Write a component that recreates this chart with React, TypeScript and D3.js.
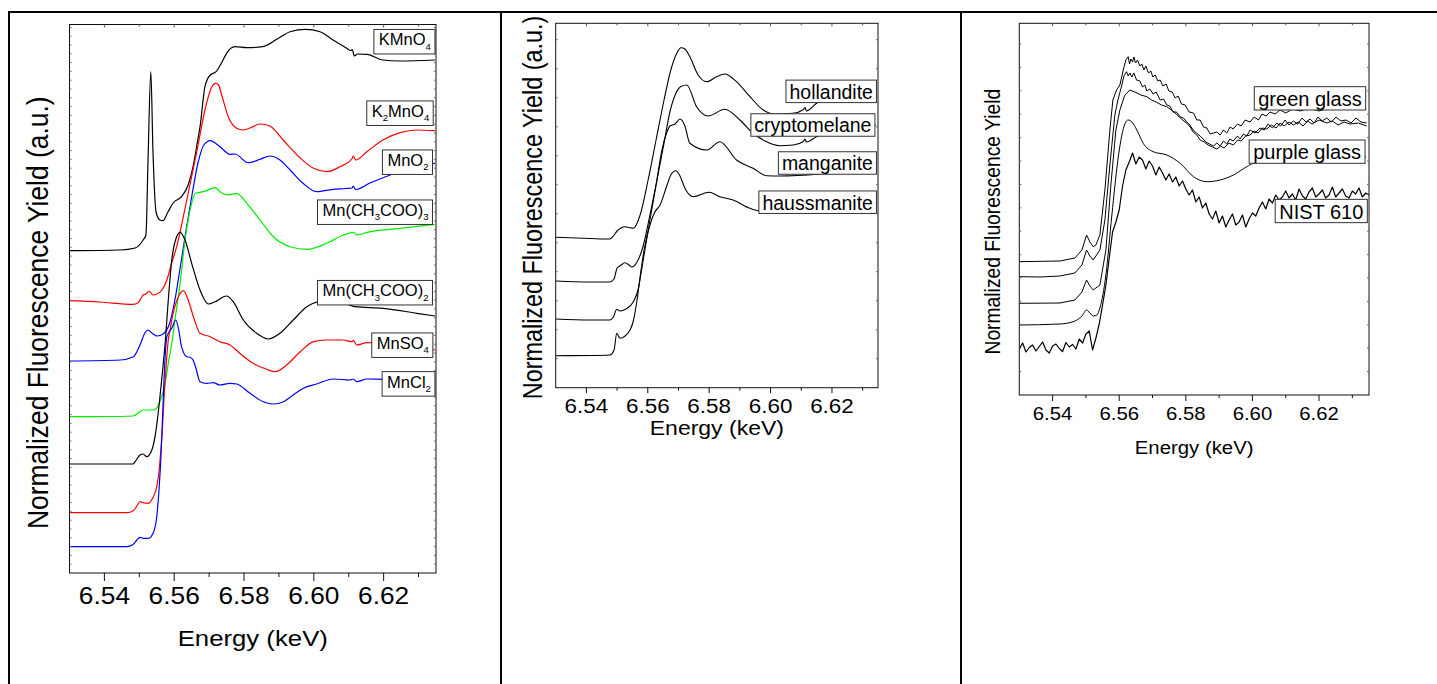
import React, { useEffect, useRef } from "react";
import * as d3 from "d3";

type Pt = [number, number];

// shared energy axis (keV)
const energyDomain: [number, number] = [6.53, 6.635];
const energyTicks = [6.54, 6.56, 6.58, 6.6, 6.62];
const energyMinorTicks = [6.55, 6.57, 6.59, 6.61, 6.63];

// ---- panel 1: Mn reference compounds (normalized yield, stacked) ----
const kmno4: Pt[] = [
  [6.53, 6.446], [6.5445, 6.46], [6.5488, 6.5], [6.5511, 6.66], [6.5519, 6.76], [6.5525, 8.26],
  [6.5533, 10.026], [6.5539, 8.46], [6.5548, 7.22], [6.5559, 7.06], [6.5568, 7.046], [6.5582, 7.22],
  [6.5597, 7.4], [6.5621, 7.526], [6.564, 7.76], [6.5654, 8.126], [6.5665, 8.56], [6.5674, 8.926],
  [6.5688, 9.726], [6.5703, 9.96], [6.572, 10.026], [6.5737, 10.22], [6.575, 10.394], [6.5774, 10.526],
  [6.5808, 10.506], [6.5854, 10.526], [6.5894, 10.674], [6.5932, 10.826], [6.5975, 10.874],
  [6.6018, 10.826], [6.6055, 10.66], [6.6094, 10.494], [6.6106, 10.45], [6.611, 10.47], [6.6116, 10.34],
  [6.6125, 10.38], [6.6152, 10.374], [6.6198, 10.26], [6.6247, 10.24], [6.6347, 10.26],
];
const k2mno4: Pt[] = [
  [6.53, 5.446], [6.5387, 5.42], [6.5482, 5.374], [6.5496, 5.4], [6.5511, 5.56], [6.5519, 5.58],
  [6.5528, 5.64], [6.5539, 5.56], [6.5551, 5.58], [6.5565, 5.66], [6.5579, 5.86], [6.5591, 6.16],
  [6.5607, 6.526], [6.5636, 7.46], [6.5664, 8.4], [6.5688, 9.26], [6.5707, 9.714], [6.5719, 9.794],
  [6.5727, 9.76], [6.5736, 9.56], [6.5755, 9.126], [6.5779, 8.894], [6.5797, 8.86], [6.5817, 8.9],
  [6.5846, 8.98], [6.5874, 8.94], [6.5912, 8.66], [6.5961, 8.3], [6.5999, 8.094], [6.6037, 8.026],
  [6.6075, 8.126], [6.6109, 8.28], [6.6113, 8.34], [6.612, 8.26], [6.6152, 8.426], [6.6198, 8.66],
  [6.6247, 8.806], [6.6295, 8.86], [6.6347, 8.846],
];
const mno2: Pt[] = [
  [6.53, 4.24], [6.5445, 4.26], [6.5482, 4.32], [6.5502, 4.56], [6.5516, 4.8], [6.5525, 4.86],
  [6.5536, 4.8], [6.5551, 4.74], [6.5568, 4.78], [6.5588, 5.02], [6.5602, 5.46], [6.5617, 6.1],
  [6.5634, 6.86], [6.5651, 7.56], [6.5668, 8.2], [6.5685, 8.56], [6.5703, 8.646], [6.5731, 8.526],
  [6.576, 8.374], [6.5774, 8.38], [6.5812, 8.206], [6.5846, 8.274], [6.5874, 8.34], [6.5903, 8.26],
  [6.5932, 8.06], [6.5969, 7.794], [6.6008, 7.626], [6.6055, 7.674], [6.6092, 7.69], [6.6109, 7.7],
  [6.6113, 7.734], [6.612, 7.67], [6.6161, 7.8], [6.6219, 7.96], [6.6276, 8.1], [6.6347, 8.194],
];
const mnAcetate3: Pt[] = [
  [6.53, 3.126], [6.5445, 3.13], [6.5482, 3.14], [6.5502, 3.226], [6.5511, 3.26], [6.554, 3.26],
  [6.5559, 3.426], [6.5574, 3.794], [6.5583, 4.194], [6.5593, 4.594], [6.5602, 5.06], [6.5617, 5.8],
  [6.5631, 6.66], [6.565, 7.394], [6.566, 7.594], [6.5684, 7.626], [6.5717, 7.706], [6.5731, 7.626],
  [6.5755, 7.56], [6.5779, 7.594], [6.5808, 7.394], [6.5846, 7.06], [6.5884, 6.726], [6.5932, 6.526],
  [6.598, 6.474], [6.6037, 6.594], [6.6085, 6.76], [6.6114, 6.814], [6.6123, 6.76], [6.6152, 6.814],
  [6.6247, 6.894], [6.6347, 6.974],
];
const mnAcetate2: Pt[] = [
  [6.53, 2.18], [6.5445, 2.18], [6.5482, 2.18], [6.5488, 2.226], [6.5502, 2.36], [6.5511, 2.38],
  [6.5521, 2.326], [6.5536, 2.46], [6.5545, 2.726], [6.5554, 3.194], [6.5564, 3.86], [6.5574, 4.594],
  [6.5583, 5.46], [6.5593, 6.26], [6.5607, 6.726], [6.5617, 6.814], [6.5631, 6.66], [6.565, 6.194],
  [6.5674, 5.66], [6.5698, 5.38], [6.5717, 5.426], [6.575, 5.54], [6.5769, 5.426], [6.5798, 5.06],
  [6.5836, 4.794], [6.587, 4.68], [6.5903, 4.794], [6.5941, 5.06], [6.598, 5.326], [6.6013, 5.426],
  [6.6061, 5.46], [6.6118, 5.326], [6.6199, 5.294], [6.6295, 5.194], [6.6347, 5.14],
];
const mnso4: Pt[] = [
  [6.53, 1.206], [6.5464, 1.206], [6.5483, 1.246], [6.5493, 1.34], [6.5502, 1.426], [6.5511, 1.406],
  [6.5526, 1.394], [6.554, 1.526], [6.555, 1.726], [6.5557, 2.06], [6.5561, 2.394], [6.5566, 2.86],
  [6.5571, 3.526], [6.5576, 4.06], [6.5583, 4.66], [6.5588, 4.86], [6.5597, 5.194], [6.5612, 5.526],
  [6.5626, 5.646], [6.564, 5.46], [6.5655, 5.126], [6.5674, 4.794], [6.5703, 4.726], [6.5731, 4.626],
  [6.576, 4.56], [6.5788, 4.394], [6.5826, 4.194], [6.5865, 4.074], [6.5889, 4.026], [6.5922, 4.16],
  [6.5961, 4.426], [6.5999, 4.626], [6.6037, 4.66], [6.6085, 4.66], [6.6109, 4.626], [6.6113, 4.654],
  [6.6123, 4.56], [6.6152, 4.606], [6.619, 4.6], [6.6276, 4.54], [6.6347, 4.46],
];
const mncl2: Pt[] = [
  [6.53, 0.526], [6.5464, 0.526], [6.5483, 0.574], [6.5493, 0.66], [6.5502, 0.714], [6.5511, 0.694],
  [6.5526, 0.694], [6.554, 0.806], [6.555, 1.126], [6.5557, 1.726], [6.5562, 2.326], [6.5567, 3.194],
  [6.5572, 4.06], [6.5579, 4.726], [6.5593, 4.894], [6.5604, 5.06], [6.5612, 4.894], [6.5621, 4.526],
  [6.5636, 4.326], [6.5645, 4.314], [6.5654, 4.26], [6.5662, 4.1], [6.5674, 3.826], [6.5693, 3.794],
  [6.5712, 3.806], [6.5731, 3.76], [6.576, 3.794], [6.5779, 3.78], [6.5817, 3.594], [6.5855, 3.426],
  [6.5884, 3.38], [6.5913, 3.426], [6.5941, 3.56], [6.597, 3.694], [6.6008, 3.78], [6.6056, 3.88],
  [6.6104, 3.86], [6.6113, 3.88], [6.6123, 3.826], [6.6152, 3.88], [6.6199, 3.874], [6.6347, 3.86],
];

// ---- panel 2: Mn oxide minerals ----
const hollandite: Pt[] = [
  [6.53, 3.008], [6.5412, 2.984], [6.5476, 2.974], [6.5488, 3.034], [6.55, 3.134], [6.5513, 3.194],
  [6.5526, 3.22], [6.5539, 3.204], [6.5553, 3.188], [6.5575, 3.454], [6.5601, 4.154], [6.5627, 4.954],
  [6.5653, 5.754], [6.5675, 6.354], [6.5695, 6.694], [6.5708, 6.8], [6.5721, 6.774], [6.5737, 6.62],
  [6.5764, 6.254], [6.5792, 6.12], [6.5824, 6.22], [6.5851, 6.274], [6.5889, 6.12], [6.5933, 5.82],
  [6.5976, 5.554], [6.6014, 5.474], [6.6073, 5.488], [6.6107, 5.564], [6.6112, 5.604], [6.6117, 5.534],
  [6.615, 5.688], [6.6193, 5.814], [6.6343, 5.914],
];
const cryptomelane: Pt[] = [
  [6.53, 2.134], [6.5412, 2.114], [6.5476, 2.114], [6.549, 2.174], [6.55, 2.394], [6.5513, 2.454],
  [6.5526, 2.5], [6.5539, 2.454], [6.5548, 2.414], [6.5565, 2.514], [6.5584, 2.814], [6.5607, 3.454],
  [6.563, 4.154], [6.5653, 4.894], [6.5672, 5.514], [6.5692, 5.894], [6.5708, 6.024], [6.5727, 6.054],
  [6.5759, 5.62], [6.5797, 5.434], [6.5851, 5.568], [6.59, 5.354], [6.5943, 5.088], [6.5982, 4.934],
  [6.603, 4.84], [6.6074, 4.854], [6.6107, 4.924], [6.6112, 4.974], [6.6117, 4.914], [6.615, 5.02],
  [6.6193, 5.114], [6.6343, 5.254],
];
const manganite: Pt[] = [
  [6.53, 1.374], [6.5412, 1.354], [6.5476, 1.354], [6.5488, 1.414], [6.5499, 1.568], [6.5509, 1.534],
  [6.5529, 1.574], [6.5553, 1.72], [6.5568, 1.954], [6.5584, 2.514], [6.5607, 3.354], [6.5627, 4.054],
  [6.5646, 4.754], [6.5661, 5.088], [6.5672, 5.234], [6.5689, 5.274], [6.5705, 5.374], [6.5721, 5.234],
  [6.5737, 4.888], [6.5792, 4.754], [6.5835, 4.92], [6.5889, 4.554], [6.5943, 4.388], [6.5987, 4.24],
  [6.603, 4.234], [6.6343, 4.394],
];
const haussmanite: Pt[] = [
  [6.53, 0.64], [6.5412, 0.644], [6.5476, 0.654], [6.549, 0.754], [6.5499, 1.088], [6.5509, 0.988],
  [6.5526, 1.034], [6.5542, 1.154], [6.5552, 1.314], [6.5565, 1.754], [6.5578, 2.354], [6.5591, 2.854],
  [6.5607, 3.254], [6.5623, 3.514], [6.564, 3.654], [6.5661, 4.02], [6.5675, 4.254], [6.5691, 4.34],
  [6.5705, 4.234], [6.5721, 3.988], [6.5748, 3.82], [6.5799, 3.908], [6.5835, 3.82], [6.5878, 3.754],
  [6.5933, 3.588], [6.596, 3.54], [6.5998, 3.534], [6.6343, 3.654],
];

// ---- panel 3: glasses ----
const glassA: Pt[] = [
  [6.53, 2.666], [6.5422, 2.68], [6.5467, 2.74], [6.5488, 2.9], [6.5502, 3.2], [6.5512, 3.06],
  [6.5522, 2.966], [6.553, 3.0], [6.5542, 3.2], [6.5557, 4.1], [6.5572, 5.3], [6.5581, 5.9],
  [6.5592, 6.1], [6.5602, 6.2], [6.5612, 6.5], [6.562, 6.7], [6.5627, 6.766], [6.5631, 6.62],
  [6.5635, 6.72], [6.564, 6.66], [6.5644, 6.76], [6.5649, 6.64], [6.5655, 6.7], [6.5662, 6.58],
  [6.5668, 6.62], [6.5674, 6.5], [6.568, 6.58], [6.5688, 6.44], [6.5695, 6.48], [6.5701, 6.36],
  [6.5708, 6.4], [6.5716, 6.28], [6.5723, 6.3], [6.5731, 6.18], [6.5741, 6.22], [6.5749, 6.08],
  [6.5759, 6.06], [6.5768, 5.94], [6.5777, 5.98], [6.5787, 5.82], [6.5798, 5.8], [6.581, 5.66],
  [6.5823, 5.64], [6.5833, 5.5], [6.5843, 5.5], [6.5853, 5.36], [6.5863, 5.34], [6.5873, 5.22],
  [6.5883, 5.24], [6.5893, 5.26], [6.5903, 5.2], [6.5913, 5.3], [6.5923, 5.24], [6.5933, 5.36],
  [6.5942, 5.32], [6.5955, 5.42], [6.5966, 5.38], [6.5978, 5.5], [6.5993, 5.46], [6.6005, 5.56],
  [6.6018, 5.5], [6.6029, 5.62], [6.6041, 5.58], [6.6053, 5.66], [6.6068, 5.62], [6.6083, 5.7],
  [6.61, 5.64], [6.612, 5.72], [6.6143, 5.68], [6.617, 5.74], [6.62, 5.68], [6.623, 5.74],
  [6.6341, 5.72],
];
const glassB: Pt[] = [
  [6.53, 2.366], [6.5362, 2.36], [6.5422, 2.38], [6.5467, 2.44], [6.5488, 2.6], [6.5502, 2.9],
  [6.5512, 2.78], [6.5522, 2.7], [6.5542, 2.9], [6.5557, 3.5], [6.5572, 4.6], [6.5587, 5.6],
  [6.5596, 5.9], [6.5608, 6.2], [6.5614, 6.38], [6.5622, 6.466], [6.5627, 6.38], [6.5632, 6.44],
  [6.5638, 6.36], [6.5644, 6.44], [6.5652, 6.3], [6.5662, 6.28], [6.567, 6.16], [6.5677, 6.2],
  [6.5683, 6.08], [6.5692, 6.12], [6.5702, 6.02], [6.5711, 6.06], [6.5723, 5.9], [6.5733, 5.92],
  [6.5743, 5.8], [6.5752, 5.78], [6.5762, 5.66], [6.5772, 5.66], [6.5783, 5.56], [6.5793, 5.54],
  [6.5803, 5.46], [6.5812, 5.4], [6.5822, 5.3], [6.5832, 5.24], [6.5843, 5.18], [6.5852, 5.12],
  [6.586, 5.06], [6.5871, 5.02], [6.5883, 4.98], [6.5893, 5.04], [6.5903, 4.98], [6.5913, 5.08],
  [6.5923, 5.02], [6.5932, 5.12], [6.5942, 5.08], [6.5955, 5.18], [6.5963, 5.12], [6.5973, 5.22],
  [6.5983, 5.18], [6.5993, 5.3], [6.6008, 5.24], [6.6023, 5.34], [6.6035, 5.3], [6.6047, 5.42],
  [6.606, 5.34], [6.6073, 5.44], [6.6085, 5.38], [6.6098, 5.5], [6.611, 5.4], [6.6123, 5.48],
  [6.6136, 5.42], [6.6149, 5.54], [6.6161, 5.46], [6.6173, 5.52], [6.6185, 5.44], [6.6197, 5.56],
  [6.621, 5.48], [6.6223, 5.54], [6.6237, 5.46], [6.6251, 5.56], [6.6266, 5.48], [6.6281, 5.5],
  [6.6296, 5.44], [6.6311, 5.54], [6.6326, 5.46], [6.6343, 5.44],
];
const glassC: Pt[] = [
  [6.53, 1.834], [6.5422, 1.84], [6.5467, 1.9], [6.5488, 2.06], [6.5502, 2.3], [6.5512, 2.18],
  [6.5522, 2.1], [6.5542, 2.2], [6.556, 2.9], [6.5575, 4.2], [6.559, 5.3], [6.5602, 5.7],
  [6.5617, 6.0], [6.5632, 6.1], [6.5647, 6.06], [6.5665, 6.0], [6.5683, 5.966], [6.5697, 5.9],
  [6.5711, 5.86], [6.5727, 5.8], [6.5743, 5.766], [6.5757, 5.7], [6.5771, 5.62], [6.5787, 5.52],
  [6.5803, 5.434], [6.5813, 5.36], [6.5822, 5.26], [6.5833, 5.2], [6.5843, 5.1], [6.5855, 5.06],
  [6.5867, 5.0], [6.588, 4.96], [6.5893, 4.92], [6.5904, 4.98], [6.5915, 4.94], [6.5929, 5.04],
  [6.5943, 5.0], [6.5955, 5.1], [6.5966, 5.08], [6.598, 5.18], [6.5993, 5.2], [6.6005, 5.28],
  [6.6017, 5.24], [6.603, 5.34], [6.6043, 5.32], [6.6057, 5.4], [6.6071, 5.34], [6.6083, 5.44],
  [6.6095, 5.38], [6.611, 5.46], [6.6123, 5.4], [6.6138, 5.46], [6.6152, 5.38], [6.6166, 5.48],
  [6.6179, 5.42], [6.62, 5.5], [6.6223, 5.44], [6.624, 5.48], [6.6257, 5.4], [6.6275, 5.46],
  [6.6293, 5.42], [6.6318, 5.44], [6.6343, 5.38],
];
const purpleGlass: Pt[] = [
  [6.53, 1.4], [6.5422, 1.42], [6.5467, 1.48], [6.5488, 1.58], [6.5502, 1.7], [6.5512, 1.64],
  [6.5522, 1.58], [6.5533, 1.6], [6.5542, 1.74], [6.556, 2.4], [6.5578, 3.6], [6.5596, 4.7],
  [6.5608, 5.2], [6.5617, 5.42], [6.5627, 5.5], [6.5638, 5.46], [6.5653, 5.3], [6.5672, 5.034],
  [6.5702, 4.866], [6.5743, 4.8], [6.5783, 4.634], [6.5823, 4.366], [6.5863, 4.266], [6.5903, 4.3],
  [6.5943, 4.4], [6.5983, 4.566], [6.6003, 4.634], [6.6113, 4.7], [6.6341, 4.76],
];
const nistEnergy = [
  6.530, 6.531, 6.532, 6.533, 6.534, 6.535, 6.536, 6.537, 6.538, 6.539,
  6.540, 6.541, 6.542, 6.543, 6.544, 6.545, 6.546, 6.547, 6.548, 6.549,
  6.550, 6.551, 6.552, 6.553, 6.554, 6.555, 6.556, 6.557, 6.558, 6.559,
  6.560, 6.561, 6.562, 6.563, 6.564, 6.565, 6.566, 6.567, 6.568, 6.569,
  6.570, 6.571, 6.572, 6.573, 6.574, 6.575, 6.576, 6.577, 6.578, 6.579,
  6.580, 6.581, 6.582, 6.583, 6.584, 6.585, 6.586, 6.587, 6.588, 6.589,
  6.590, 6.591, 6.592, 6.593, 6.594, 6.595, 6.596, 6.597, 6.598, 6.599,
  6.600, 6.601, 6.602, 6.603, 6.604, 6.605, 6.606, 6.607, 6.608, 6.609,
  6.610, 6.611, 6.612, 6.613, 6.614, 6.615, 6.616, 6.617, 6.618, 6.619,
  6.620, 6.621, 6.622, 6.623, 6.624, 6.625, 6.626, 6.627, 6.628, 6.629,
  6.630, 6.631, 6.632, 6.633, 6.634, 6.635,
];
const nistYield = [
  0.92, 1.04, 0.86, 0.95, 1.0, 0.88, 0.97, 1.06, 0.9, 0.84,
  0.98, 1.02, 0.93, 0.87, 1.05, 0.96, 1.01, 0.92, 1.12, 1.04,
  1.22, 1.28, 0.9, 1.14, 1.42, 1.8, 2.2, 2.74, 3.26, 3.46,
  3.7, 4.18, 4.5, 4.66, 4.84, 4.62, 4.76, 4.7, 4.52, 4.68,
  4.58, 4.4, 4.56, 4.44, 4.3, 4.42, 4.26, 4.36, 4.18, 4.28,
  4.12, 4.0, 4.1, 3.86, 3.96, 3.74, 3.84, 3.62, 3.52, 3.68,
  3.44, 3.58, 3.36, 3.5, 3.62, 3.4, 3.46, 3.6, 3.36, 3.52,
  3.64, 3.58, 3.74, 3.86, 3.72, 3.92, 3.84, 4.0, 3.9, 3.96,
  4.08, 3.94, 4.02, 3.9, 4.12, 3.98, 3.92, 4.06, 4.14, 3.96,
  4.02, 4.1, 3.94, 4.0, 4.16, 3.96, 4.04, 4.12, 3.98, 3.94,
  4.08, 4.02, 4.14, 3.96, 4.04, 4.0,
];
const nist610: Pt[] = nistEnergy.map((e, i) => [e, nistYield[i]] as Pt);

// label texts: [text, isSubscript]
type Part = [string, boolean];
const compoundNames: Part[][] = [
  [["KMnO", false], ["4", true]],
  [["K", false], ["2", true], ["MnO", false], ["4", true]],
  [["MnO", false], ["2", true]],
  [["Mn(CH", false], ["3", true], ["COO)", false], ["3", true]],
  [["Mn(CH", false], ["3", true], ["COO)", false], ["2", true]],
  [["MnSO", false], ["4", true]],
  [["MnCl", false], ["2", true]],
];
const mineralNames: Part[][] = [
  [["hollandite", false]],
  [["cryptomelane", false]],
  [["manganite", false]],
  [["haussmanite", false]],
];
const glassNames: Part[][] = [
  [["green glass", false]],
  [["purple glass", false]],
  [["NIST 610", false]],
];

const FONT = "'Liberation Sans', Arial, Helvetica, sans-serif";

const panels = [
  {
    id: "p1",
    frame: { left: 69.5, top: 24.5, right: 436, bottom: 573 },
    yMax: 10.97,
    k: 1.12,
    tickFont: 23.5, tickBase: 31, titleFont: 23, titleBase: 73,
    yTitle: "Normalized Fluorescence Yield (a.u.)", yTitleFont: 26.4, yTitleX: -22, yTitleDy: 14,
    majorLen: 8, minorLen: 4, yTickStep: 0.176,
    labelFont: 16.5, labelH: 24.5, labelBase: 3.6, padL: 5, padR: 4,
    series: [
      { data: kmno4, color: "#000000", width: 1.2, smooth: true },
      { data: k2mno4, color: "#ff0000", width: 1.2, smooth: true },
      { data: mno2, color: "#0000ff", width: 1.2, smooth: true },
      { data: mnAcetate3, color: "#00ee00", width: 1.2, smooth: true },
      { data: mnAcetate2, color: "#000000", width: 1.2, smooth: true },
      { data: mnso4, color: "#ff0000", width: 1.2, smooth: true },
      { data: mncl2, color: "#0000ff", width: 1.2, smooth: true },
    ],
    labels: [
      { parts: compoundNames[0], e: 6.6347, v: 10.626 },
      { parts: compoundNames[1], e: 6.6342, v: 9.196 },
      { parts: compoundNames[2], e: 6.634, v: 8.216 },
      { parts: compoundNames[3], e: 6.634, v: 7.216 },
      { parts: compoundNames[4], e: 6.634, v: 5.606 },
      { parts: compoundNames[5], e: 6.6341, v: 4.556 },
      { parts: compoundNames[6], e: 6.6347, v: 3.782 },
    ],
  },
  {
    id: "p2",
    frame: { left: 555.7, top: 23.3, right: 878, bottom: 387.7 },
    yMax: 7.288,
    k: 1.15,
    tickFont: 19.5, tickBase: 25.5, titleFont: 20, titleBase: 47,
    yTitle: "Normalized Fluorescence Yield (a.u.)", yTitleFont: 23.4, yTitleX: -14, yTitleDy: 2,
    majorLen: 5.5, minorLen: 3, yTickStep: 0.58,
    labelFont: 19.5, labelH: 22.5, labelBase: 7.3, padL: 3.5, padR: 3.5,
    series: [
      { data: hollandite, color: "#000000", width: 1.1, smooth: true },
      { data: cryptomelane, color: "#000000", width: 1.1, smooth: true },
      { data: manganite, color: "#000000", width: 1.1, smooth: true },
      { data: haussmanite, color: "#000000", width: 1.1, smooth: true },
    ],
    labels: [
      { parts: mineralNames[0], e: 6.6345, v: 5.927 },
      { parts: mineralNames[1], e: 6.634, v: 5.254 },
      { parts: mineralNames[2], e: 6.6345, v: 4.494 },
      { parts: mineralNames[3], e: 6.6345, v: 3.71 },
    ],
  },
  {
    id: "p3",
    frame: { left: 1019.3, top: 23.3, right: 1369, bottom: 395 },
    yMax: 7.434,
    k: 1.1,
    tickFont: 18.5, tickBase: 25, titleFont: 18.5, titleBase: 59,
    yTitle: "Normalized Fluorescence Yield", yTitleFont: 19.3, yTitleX: -19, yTitleDy: 12.5,
    majorLen: 6, minorLen: 3, yTickStep: 0.468,
    labelFont: 20, labelH: 23.3, labelBase: 7.5, padL: 4, padR: 4,
    series: [
      { data: glassA, color: "#000000", width: 1, smooth: false },
      { data: glassB, color: "#000000", width: 1, smooth: false },
      { data: glassC, color: "#000000", width: 1, smooth: false },
      { data: purpleGlass, color: "#000000", width: 1, smooth: true },
      { data: nist610, color: "#000000", width: 1.2, smooth: false },
    ],
    labels: [
      { parts: glassNames[0], e: 6.634, v: 5.933 },
      { parts: glassNames[1], e: 6.6338, v: 4.867 },
      { parts: glassNames[2], e: 6.6345, v: 3.68 },
    ],
  },
];

const fmt = d3.format(".2f");

function drawPanel(root: any, p: any) {
  const { left, top, right, bottom } = p.frame;
  const x = d3.scaleLinear().domain(energyDomain).range([left, right]);
  const y = d3.scaleLinear().domain([0, p.yMax]).range([bottom, top]);
  const g = root.append("g");

  const clipId = `clip-${p.id}`;
  g.append("clipPath").attr("id", clipId)
    .append("rect").attr("x", left).attr("y", top).attr("width", right - left).attr("height", bottom - top);

  const plot = g.append("g").attr("clip-path", `url(#${clipId})`);
  p.series.forEach((s: any) => {
    const line = d3.line<Pt>()
      .x(d => x(d[0]))
      .y(d => y(d[1]))
      .curve(s.smooth ? d3.curveMonotoneX : d3.curveLinear);
    plot.append("path")
      .attr("d", line(s.data))
      .attr("fill", "none")
      .attr("stroke", s.color)
      .attr("stroke-width", s.width)
      .attr("stroke-linejoin", "round");
  });

  // boxed labels
  p.labels.forEach((l: any) => {
    const rx = x(l.e);
    const cy = y(l.v);
    const lg = g.append("g");
    const rect = lg.append("rect");
    const t = lg.append("text")
      .attr("x", rx - p.padR)
      .attr("y", cy + p.labelBase)
      .attr("text-anchor", "end")
      .attr("font-family", FONT)
      .attr("font-size", p.labelFont)
      .attr("fill", "#000");
    const subSize = p.labelFont * 0.58;
    const shift = p.labelFont * 0.28;
    let down = false;
    l.parts.forEach(([txt, sub]: Part) => {
      const ts = t.append("tspan").text(txt).attr("font-size", sub ? subSize : p.labelFont);
      if (sub && !down) { ts.attr("dy", shift); down = true; }
      else if (!sub && down) { ts.attr("dy", -shift); down = false; }
    });
    const bb = (t.node() as SVGTextElement).getBBox();
    rect.attr("x", bb.x - p.padL)
      .attr("y", cy - p.labelH / 2)
      .attr("width", rx - bb.x + p.padL)
      .attr("height", p.labelH)
      .attr("fill", "#fff")
      .attr("stroke", "#333")
      .attr("stroke-width", 1);
  });

  // frame
  g.append("rect")
    .attr("x", left).attr("y", top).attr("width", right - left).attr("height", bottom - top)
    .attr("fill", "none").attr("stroke", "#111").attr("stroke-width", 1);

  // x ticks (outward at bottom, inward at top)
  energyTicks.forEach(t => {
    g.append("line").attr("x1", x(t)).attr("x2", x(t)).attr("y1", bottom).attr("y2", bottom + p.majorLen)
      .attr("stroke", "#111");
    g.append("line").attr("x1", x(t)).attr("x2", x(t)).attr("y1", top).attr("y2", top + 3)
      .attr("stroke", "#555");
  });
  energyMinorTicks.forEach(t => {
    g.append("line").attr("x1", x(t)).attr("x2", x(t)).attr("y1", bottom).attr("y2", bottom + p.minorLen)
      .attr("stroke", "#111");
    g.append("line").attr("x1", x(t)).attr("x2", x(t)).attr("y1", top).attr("y2", top + 2)
      .attr("stroke", "#555");
  });

  // y ticks, no labels, inward on both sides
  d3.range(p.yTickStep, p.yMax, p.yTickStep).forEach(v => {
    g.append("line").attr("x1", left).attr("x2", left + 2).attr("y1", y(v)).attr("y2", y(v))
      .attr("stroke", "#666");
    g.append("line").attr("x1", right).attr("x2", right - 2).attr("y1", y(v)).attr("y2", y(v))
      .attr("stroke", "#666");
  });

  // tick labels
  energyTicks.forEach(t => {
    g.append("text")
      .attr("transform", `translate(${x(t)},${bottom + p.tickBase}) scale(${p.k},1)`)
      .attr("text-anchor", "middle")
      .attr("font-family", FONT)
      .attr("font-size", p.tickFont)
      .text(fmt(t));
  });

  // axis titles
  g.append("text")
    .attr("transform", `translate(${(left + right) / 2},${bottom + p.titleBase}) scale(${p.k},1)`)
    .attr("text-anchor", "middle")
    .attr("font-family", FONT)
    .attr("font-size", p.titleFont)
    .text("Energy (keV)");

  g.append("text")
    .attr("transform", `translate(${left + p.yTitleX},${(top + bottom) / 2 + p.yTitleDy}) scale(${p.k},1) rotate(-90)`)
    .attr("text-anchor", "middle")
    .attr("font-family", FONT)
    .attr("font-size", p.yTitleFont)
    .text(p.yTitle);
}

const App = () => {
  const svgRef = useRef<SVGSVGElement>(null);

  useEffect(() => {
    const svg = d3.select(svgRef.current);
    svg.selectAll("*").remove();

    svg.append("rect").attr("width", 1437).attr("height", 684).attr("fill", "#fff");

    // table cell borders
    const border = svg.append("g").attr("stroke", "#000").attr("stroke-width", 2);
    border.append("line").attr("x1", 8).attr("x2", 1437).attr("y1", 12).attr("y2", 12);
    [9, 501, 961].forEach(cx => {
      border.append("line").attr("x1", cx).attr("x2", cx).attr("y1", 11).attr("y2", 684);
    });

    panels.forEach(p => drawPanel(svg, p));
  }, []);

  return (
    <div style={{ position: "absolute", left: 0, top: 0 }}>
      <svg ref={svgRef} width={1437} height={684} style={{ display: "block" }}></svg>
    </div>
  );
};

export default App;
